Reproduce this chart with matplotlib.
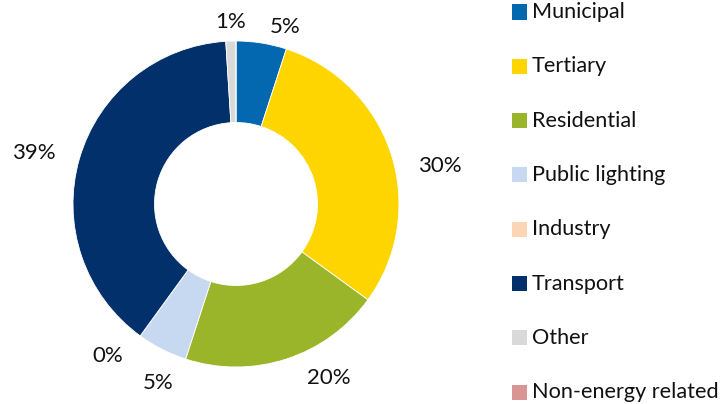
import numpy as np
import matplotlib
matplotlib.use("Agg")
import matplotlib.pyplot as plt
from matplotlib.patches import Rectangle

categories = ["Municipal", "Tertiary", "Residential", "Public lighting",
              "Industry", "Transport", "Other", "Non-energy related"]
values = [5, 30, 20, 5, 0, 39, 1, 0]
colors = ["#0468B1", "#FFD500", "#9BB52B", "#C6D9F0",
          "#FCD5B5", "#02306A", "#D9D9D9", "#D99594"]

# label layout (style): which slices get a label, nudges in degrees, radius of text centre
show_label = [True, True, True, True, True, True, True, False]
label_shift = [6.5, 7.4, -10.0, -3.5, 4.0, -2.0, 0.0, 0.0]
label_radius = [1.13, 1.27, 1.21, 1.20, 1.22, 1.28, 1.12, 1.2]

plt.rcParams['font.family'] = ['Lato', 'DejaVu Sans']

W, H = 728, 404
fig = plt.figure(figsize=(W / 100, H / 100), dpi=100)
cx, cy, R = 236, 204, 163
ax = fig.add_axes([(cx - R) / W, (H - cy - R) / H, 2 * R / W, 2 * R / H])
wedges, _ = ax.pie(values, colors=colors, startangle=90, counterclock=False,
                   radius=1.0, wedgeprops=dict(width=0.5, edgecolor="white", linewidth=0.6))
ax.set_xlim(-1, 1)
ax.set_ylim(-1, 1)
ax.axis("off")

total = sum(values)
cum = 0.0
for i, v in enumerate(values):
    mid = (cum + v / 2) / total * 360.0
    cum += v
    if not show_label[i]:
        continue
    ang = np.deg2rad(mid + label_shift[i])
    r = label_radius[i]
    ax.text(r * np.sin(ang), r * np.cos(ang), f"{v:.0f}%", ha="center", va="center",
            fontsize=16, color="#111111", clip_on=False)

# legend
y0, dy = 12, 54.3
for i, lab in enumerate(categories):
    yc = y0 + i * dy
    fig.patches.append(Rectangle((512 / W, (H - yc - 7.5) / H), 15 / W, 15 / H,
                                 transform=fig.transFigure, facecolor=colors[i],
                                 edgecolor="none"))
    fig.text(532 / W, (H - yc) / H, lab, ha="left", va="center", fontsize=15.6,
             color="#111111")

fig.savefig("out.png", dpi=100)
